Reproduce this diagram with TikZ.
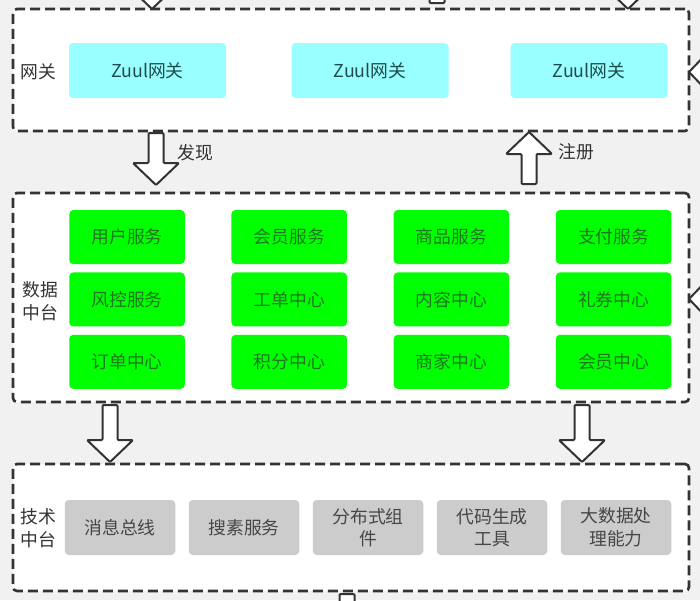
\documentclass[tikz,border=0pt]{standalone}
\usepackage{fontspec}
\setmainfont{Noto Sans CJK SC}
\usetikzlibrary{positioning,calc}

\definecolor{bgcol}{RGB}{241,241,241}
\definecolor{linecol}{RGB}{51,51,51}
\definecolor{gwfill}{RGB}{153,255,255}
\definecolor{gwtext}{RGB}{30,75,75}
\definecolor{svcfill}{RGB}{0,255,0}
\definecolor{svctext}{RGB}{30,120,30}
\definecolor{toolfill}{RGB}{204,204,204}
\definecolor{tooltext}{RGB}{70,70,70}

% hollow block arrow from #1 to #2
\newcommand\fatarrow[2]{%
  \draw[fat arrow] let \p1=($(#2)-(#1)$), \n1={veclen(\x1,\y1)}, \n2={atan2(\y1,\x1)},
    \n3={\n1-22pt} in [shift={(#1)}, rotate=\n2]
    (0pt,7.5pt) -- (\n3,7.5pt) -- (\n3,23pt) -- (\n1,0pt)
    -- (\n3,-23pt) -- (\n3,-7.5pt) -- (0pt,-7.5pt) -- cycle;}

\begin{document}
\begin{tikzpicture}[x=1pt,y=-1pt,node distance=8pt and 46.3pt,
        font=\fontsize{17.8}{22.5}\selectfont,
        panel/.style={draw=linecol,line width=2.6pt,dash pattern=on 10pt off 5pt,fill=white,
          rounded corners=4pt,minimum width=676pt},
        gw node/.style={fill=gwfill,rounded corners=4pt,minimum width=157pt,minimum height=55pt,text=gwtext},
        svc node/.style={fill=svcfill,rounded corners=4pt,minimum width=115.5pt,minimum height=54pt,text=svctext},
        tool node/.style={fill=toolfill,rounded corners=4pt,minimum width=110.5pt,minimum height=55pt,
          text=tooltext,align=center},
        side label/.style={text=linecol,align=center},
        fat arrow/.style={draw=linecol,line width=2pt,fill=white,line join=round,rounded corners=1pt}]

        \useasboundingbox (0,0) rectangle (700,600);
        \fill[bgcol] (0,0) rectangle (700,600);
        \clip (0,0) rectangle (700,600);

        % layers
        \node[panel,minimum height=122pt] (gw) at (351,70) {};
        \node[panel,minimum height=209pt] (data) at (351,297.5) {};
        \node[panel,minimum height=127pt] (tech) at (351,527.5) {};

        \node[side label] (gw label) at (38,72) {网关};
        \node[side label] (data label) at (40,301) {数据\\中台};
        \node[side label] (tech label) at (38,528) {技术\\中台};

        % gateway
        \node[gw node] (gw1) at (147.5,70.5) {Zuul网关};
        \node[gw node] (gw2) at (370,70.5) {Zuul网关};
        \node[gw node] (gw3) at (589,70.5) {Zuul网关};

        % data services
        \node[svc node] (user) at (127,237) {用户服务};
        \node[svc node,right=of user] (member) {会员服务};
        \node[svc node,right=of member] (goods) {商品服务};
        \node[svc node,right=of goods] (pay) {支付服务};
        \node[svc node,below=of user] (risk) {风控服务};
        \node[svc node,below=of member] (ticket) {工单中心};
        \node[svc node,below=of goods] (content) {内容中心};
        \node[svc node,below=of pay] (coupon) {礼券中心};
        \node[svc node,below=of risk] (order) {订单中心};
        \node[svc node,below=of ticket] (points) {积分中心};
        \node[svc node,below=of content] (seller) {商家中心};
        \node[svc node,below=of coupon] (vip) {会员中心};

        % tech services
        \node[tool node] (msg) at (120,527.5) {消息总线};
        \node[tool node,right=13.1pt of msg] (search) {搜素服务};
        \node[tool node,right=13.1pt of search] (dist) {分布式组\\件};
        \node[tool node,right=13.1pt of dist] (codegen) {代码生成\\工具};
        \node[tool node,right=13.1pt of codegen] (bigdata) {大数据处\\理能力};

        % arrows
        \coordinate (find a) at (156,133);
        \coordinate (find b) at (156,185);
        \coordinate (reg a) at (529,184);
        \coordinate (reg b) at (529,132);
        \coordinate (down1 a) at (110,405);
        \coordinate (down1 b) at (110,462);
        \coordinate (down2 a) at (582,405);
        \coordinate (down2 b) at (582,462);
        \fatarrow{find a}{find b}
        \fatarrow{reg a}{reg b}
        \fatarrow{down1 a}{down1 b}
        \fatarrow{down2 a}{down2 b}
        \node[side label] (find label) at (195,153) {发现};
        \node[side label] (reg label) at (576,152) {注册};

        % arrows running off the page
        \coordinate (in1 a) at (152,-50);
        \coordinate (in1 b) at (152,9);
        \coordinate (in2 a) at (628,-50);
        \coordinate (in2 b) at (628,9);
        \coordinate (out1 a) at (437,3);
        \coordinate (out1 b) at (437,-60);
        \coordinate (in3 a) at (760,72);
        \coordinate (in3 b) at (689,72);
        \coordinate (in4 a) at (760,299);
        \coordinate (in4 b) at (689,299);
        \coordinate (out2 a) at (347,594);
        \coordinate (out2 b) at (347,660);
        \fatarrow{in1 a}{in1 b}
        \fatarrow{in2 a}{in2 b}
        \fatarrow{out1 a}{out1 b}
        \fatarrow{in3 a}{in3 b}
        \fatarrow{in4 a}{in4 b}
        \fatarrow{out2 a}{out2 b}
      \end{tikzpicture}
\end{document}
